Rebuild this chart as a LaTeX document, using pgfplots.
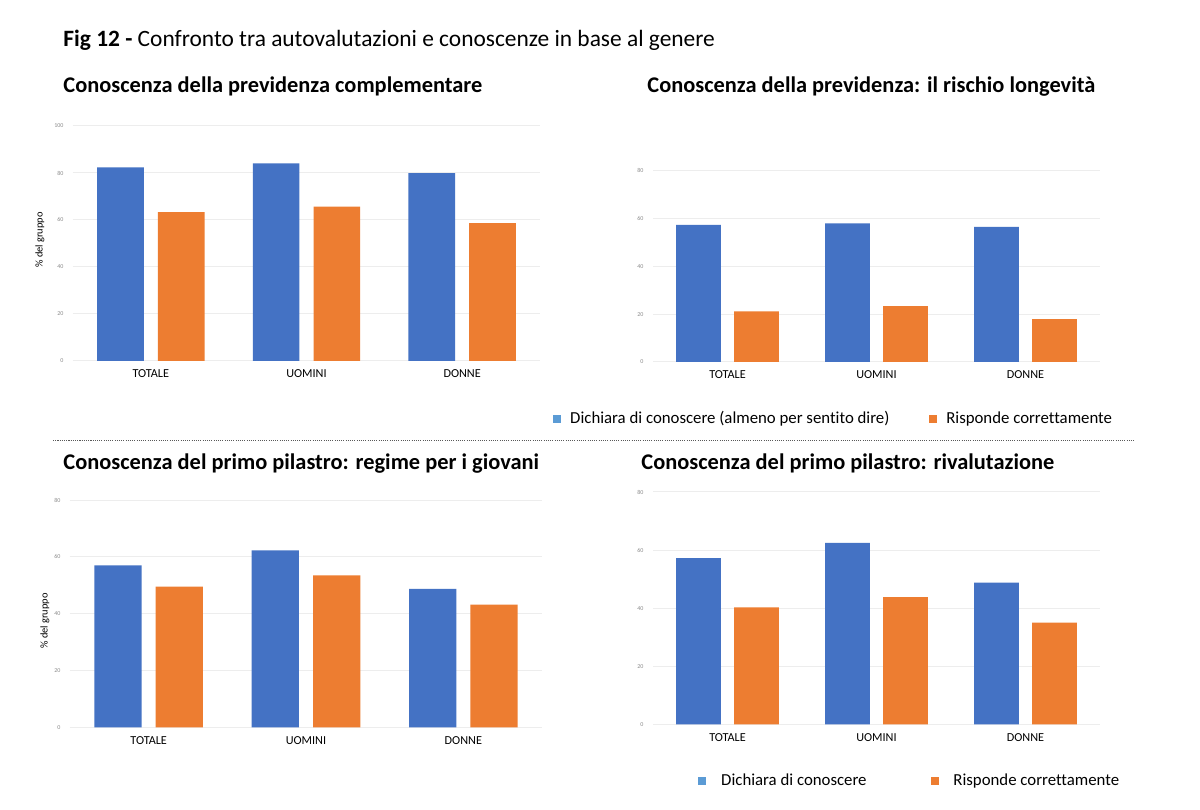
\documentclass[border=0pt]{standalone}
\usepackage{pgfplots}
\pgfplotsset{compat=1.18}
\usepackage{fontspec}
\setmainfont[Ligatures=NoCommon]{Carlito}
\definecolor{barblue}{HTML}{4472C4}
\definecolor{barorange}{HTML}{ED7D31}
\definecolor{legblue}{HTML}{5B9BD5}
\definecolor{legorange}{HTML}{ED7D31}
\definecolor{gridgray}{HTML}{EDEDED}
\definecolor{tickgray}{HTML}{8C8C8C}
\pgfplotsset{
  panel/.style={
    scale only axis,
    axis line style={draw=none},
    major tick length=0pt,
    ymajorgrids,
    grid style={gridgray, line width=0.5pt},
    xmin=-0.5, xmax=2.5, ymin=0,
    xtick={0,1,2},
    xticklabels={TOTALE,UOMINI,DONNE},
    /pgf/number format/assume math mode=true,
    xticklabel style={font=\fontsize{6.1}{7}\selectfont, text=black, yshift=-1.0pt},
    yticklabel style={font=\fontsize{3}{3.5}\selectfont, text=tickgray, xshift=-1.2pt},
    clip=false,
  },
  bblue/.style={ybar, bar width=0.3, bar shift=0pt, fill=barblue, draw=none, forget plot},
  borange/.style={ybar, bar width=0.3, bar shift=0pt, fill=barorange, draw=none, forget plot},
  legsty/.style={legend style={draw=none, fill=none, inner sep=0pt, font=\fontsize{8.4}{9}\selectfont,
      legend columns=2, cells={anchor=west},
      nodes={inner sep=0pt}}},
}
\begin{document}
\begin{tikzpicture}
\path[fill=white, use as bounding box] (0,0) rectangle (600pt,404.5pt);
% titles
\node[anchor=base west, inner sep=0pt, font=\fontsize{11.7}{13}\selectfont] at (31.5pt,381pt) {\textbf{Fig 12 -} Confronto tra autovalutazioni e conoscenze in base al genere};
\node[anchor=base west, inner sep=0pt, font=\fontsize{11.2}{13}\selectfont\bfseries] at (31.5pt,358pt) {Conoscenza della previdenza complementare};
\node[anchor=base west, inner sep=0pt, font=\fontsize{11.2}{13}\selectfont\bfseries] at (323.5pt,358pt) {Conoscenza della previdenza: il rischio longevità};
\node[anchor=base west, inner sep=0pt, font=\fontsize{11.2}{13}\selectfont\bfseries] at (31.5pt,169.5pt) {Conoscenza del primo pilastro: regime per i giovani};
\node[anchor=base west, inner sep=0pt, font=\fontsize{11.2}{13}\selectfont\bfseries] at (320.5pt,169.5pt) {Conoscenza del primo pilastro: rivalutazione};
% separator
\draw[gray!70!black, line width=0.9pt, dash pattern=on 0.55pt off 0.55pt] (26.5pt,184.2pt) -- (567.5pt,184.2pt);

% top-left
\begin{axis}[panel, at={(36.5pt,224pt)}, anchor=south west, width=233.5pt, height=117.5pt,
  ymax=100, ytick={0,20,40,60,80,100},
  ylabel={\% del gruppo},
  ylabel style={font=\fontsize{5.2}{6}\selectfont, at={(axis description cs:-0.0707,0.515)}, anchor=center}]
\addplot[bblue] coordinates {(-0.195,82.4) (0.805,84.1) (1.805,79.9)};
\addplot[borange] coordinates {(0.195,63.3) (1.195,65.7) (2.195,58.7)};
\end{axis}

% top-right
\begin{axis}[panel, at={(326.5pt,223.5pt)}, anchor=south west, width=223.5pt, height=95.65pt,
  ymax=80, ytick={0,20,40,60,80}, legsty,
  legend style={at={(-0.2237,-0.298)}, anchor=west,
    /tikz/every odd column/.append style={column sep=4.5pt},
    /tikz/every even column/.append style={column sep=20pt}}]
\addplot[bblue] coordinates {(-0.195,57.3) (0.805,58.0) (1.805,56.5)};
\addplot[borange] coordinates {(0.195,21.2) (1.195,23.4) (2.195,17.9)};
\addlegendimage{legend image code/.code={\fill[legblue] (0pt,-1.75pt) rectangle (3.5pt,1.75pt);}}
\addlegendentry{Dichiara di conoscere (almeno per sentito dire)}
\addlegendimage{legend image code/.code={\fill[legorange] (0pt,-1.75pt) rectangle (3.5pt,1.75pt);}}
\addlegendentry{Risponde correttamente}
\end{axis}

% bottom-left
\begin{axis}[panel, at={(35pt,40.85pt)}, anchor=south west, width=236pt, height=113.65pt,
  ymax=80, ytick={0,20,40,60,80},
  ylabel={\% del gruppo},
  ylabel style={font=\fontsize{5.2}{6}\selectfont, at={(axis description cs:-0.053,0.468)}, anchor=center}]
\addplot[bblue] coordinates {(-0.195,57.0) (0.805,62.3) (1.805,48.7)};
\addplot[borange] coordinates {(0.195,49.5) (1.195,53.5) (2.195,43.2)};
\end{axis}

% bottom-right
\begin{axis}[panel, at={(326.5pt,42.35pt)}, anchor=south west, width=223.5pt, height=116.15pt,
  ymax=80, ytick={0,20,40,60,80}, legsty,
  legend style={at={(0.1007,-0.244)}, anchor=west,
    /tikz/every odd column/.append style={column sep=7.5pt},
    /tikz/every even column/.append style={column sep=32pt}}]
\addplot[bblue] coordinates {(-0.195,57.2) (0.805,62.5) (1.805,48.8)};
\addplot[borange] coordinates {(0.195,40.3) (1.195,43.8) (2.195,35.0)};
\addlegendimage{legend image code/.code={\fill[legblue] (0pt,-1.75pt) rectangle (3.5pt,1.75pt);}}
\addlegendentry{Dichiara di conoscere}
\addlegendimage{legend image code/.code={\fill[legorange] (0pt,-1.75pt) rectangle (3.5pt,1.75pt);}}
\addlegendentry{Risponde correttamente}
\end{axis}
\end{tikzpicture}
\end{document}
